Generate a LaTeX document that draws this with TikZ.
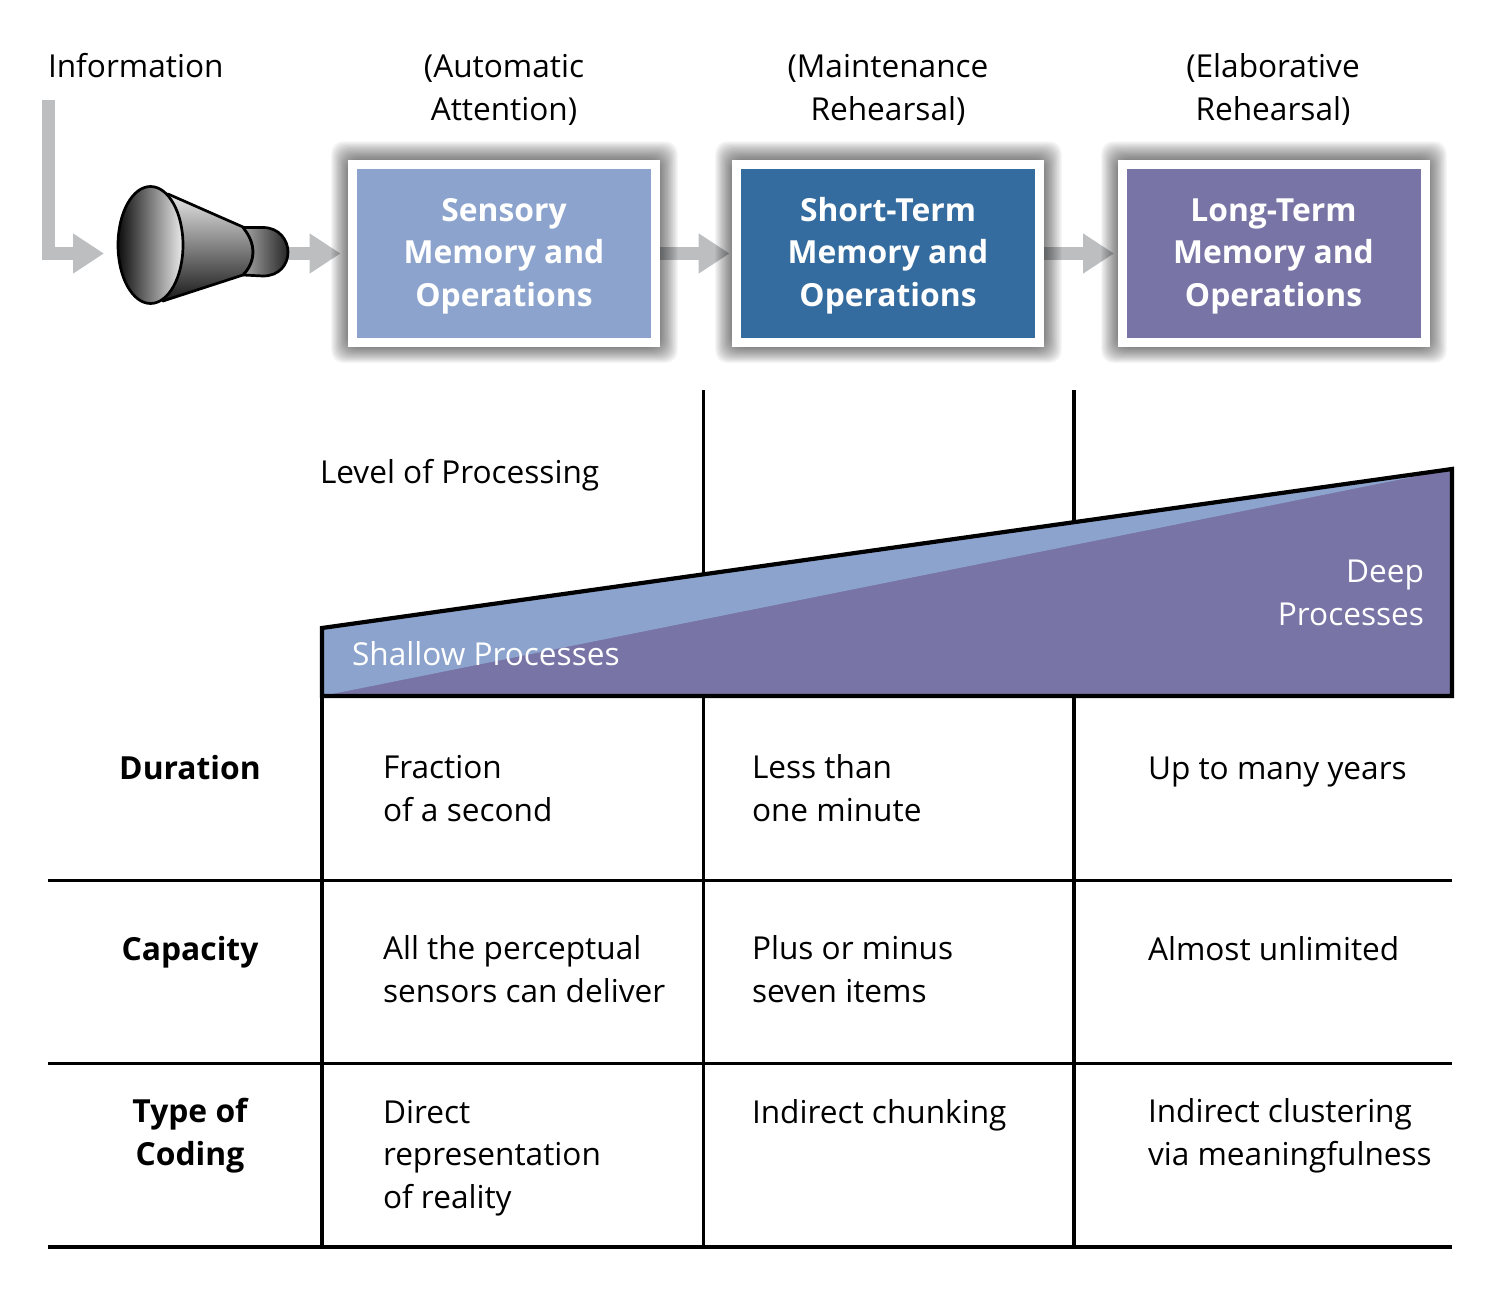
\documentclass[tikz,border=0pt]{standalone}
\usepackage{fontspec}
\setmainfont{Open Sans}
\usetikzlibrary{arrows.meta}
\definecolor{paleblue}{HTML}{8CA4CD}
\definecolor{deepblue}{HTML}{356C9F}
\definecolor{dullpurple}{HTML}{7874A6}
\definecolor{flowgrey}{HTML}{BCBEC0}
\tikzset{
  x=0.5pt,y=-0.5pt,
  txt/.style={inner sep=0pt,outer sep=0pt,font=\fontsize{15.8pt}{21.25pt}\selectfont,text=black},
  leftcell/.style={txt,anchor=base west,align=left},
  midcell/.style={txt,anchor=base,align=center},
  rowhead/.style={midcell,font=\fontsize{15.9pt}{21.25pt}\selectfont\bfseries},
  memory/.style={draw=white,line width=4.5pt,minimum width=151.5pt,minimum height=89pt,
    inner sep=0pt,align=center,text=white,text height=57.5pt,text depth=5pt,
    font=\fontsize{15.9pt}{21.25pt}\selectfont\bfseries},
  flow/.style={draw=flowgrey,line width=6.5pt,-{Triangle[length=15.5pt,width=19pt]}},
  rule/.style={draw=black,line width=1.9pt},
  wedgeedge/.style={draw=black,line width=2.1pt,line join=miter},
  cone/.style={draw=black,line width=1.35pt,line join=round},
}
\newcommand{\softshadow}[4]{%
  % stacked translucent rounded rectangles give a blurred edge
  \foreach \g in {1,...,18}{
    \fill[black,opacity=0.036,rounded corners=6pt]
      (#1+2-1.05*\g,#2+2-1.15*\g) rectangle (#3-2+1.1*\g,#4-2+1.0*\g);
  }
}
\begin{document}
\begin{tikzpicture}
\fill[white] (0,0) rectangle (1500,1295);
\useasboundingbox (0,0) rectangle (1500,1295);

% column and row rules
\coordinate (colA) at (703.5,390);
\coordinate (colAend) at (703.5,1247);
\coordinate (colB) at (1074,390);
\coordinate (colBend) at (1074,1247);
\coordinate (colC) at (322,628);
\coordinate (colCend) at (322,1247);
\draw[rule] (colA) -- (colAend);
\draw[rule] (colB) -- (colBend);
\draw[rule] (colC) -- (colCend);
\foreach \n/\y in {r1/880.5,r2/1063.5,r3/1247}{
  \coordinate (\n a) at (48,\y);
  \coordinate (\n b) at (1452,\y);
  \draw[rule] (\n a) -- (\n b);
}

% processing-level wedge
\coordinate (wa) at (322,628);
\coordinate (wb) at (1452,469);
\coordinate (wc) at (1452,696);
\coordinate (wd) at (322,696);
\fill[dullpurple] (wa) -- (wb) -- (wc) -- (wd) -- cycle;
\fill[paleblue] (wa) -- (wb) -- (wd) -- cycle;
\draw[wedgeedge] (wa) -- (wb) -- (wc) -- (wd) -- cycle;

% anchor points of the memory boxes, used by the arrows before the boxes are drawn
\coordinate (sensoryW) at (348,253.5);
\coordinate (sensoryE) at (660,253.5);
\coordinate (shortW) at (732,253.5);
\coordinate (shortE) at (1044,253.5);
\coordinate (longW) at (1118,253.5);
\coordinate (funnelIn) at (118,253.5);
\coordinate (funnelOut) at (288,253.5);
\coordinate (infoStart) at (48,100);

% flow arrows, underneath the box shadows
\draw[flow,line join=miter] (infoStart) |- ([xshift=-7pt]funnelIn);
\draw[flow,shorten >=3.7pt] (funnelOut) -- (sensoryW);
\draw[flow,shorten >=1.2pt] (sensoryE) -- (shortW);
\draw[flow,shorten >=2pt] (shortE) -- (longW);

% drop shadows behind the memory boxes
\softshadow{348}{160}{660}{347}
\softshadow{732}{160}{1044}{347}
\softshadow{1118}{160}{1429}{347}

% memory boxes
\node[memory,fill=paleblue] (sensory) at (504,253.5) {Sensory\\Memory and\\Operations};
\node[memory,fill=deepblue] (short) at (888,253.5) {Short-Term\\Memory and\\Operations};
\node[memory,fill=dullpurple] (long) at (1273.5,253.5) {Long-Term\\Memory and\\Operations};

% funnel
\shade[cone,top color=black!10,bottom color=black!90,shading angle=0]
  (168,194) -- (243,227) .. controls (250,236) and (253,244) .. (253,252)
  .. controls (253,260) and (250,268) .. (243,275) -- (163,301) -- cycle;
\shade[cone,left color=black!35,right color=black!85]
  (243,227.5) -- (263,227.5) .. controls (279,227.5) and (288,240) .. (288,252)
  .. controls (288,265) and (279,276) .. (263,276) -- (243,275)
  .. controls (250,268) and (253,260) .. (253,252)
  .. controls (253,244) and (250,236) .. (243,227.5) -- cycle;
\shade[cone,left color=black!95,right color=black!8]
  (150.5,245) ellipse [x radius=32.5,y radius=58.5];

% headings (a multi-line node is placed by the baseline of its last line)
\node[leftcell] (info) at (48,78) {Information};
\node[midcell] (hA) at (504,120) {(Automatic\\Attention)};
\node[midcell] (hB) at (888,120) {(Maintenance\\Rehearsal)};
\node[midcell] (hC) at (1273,120) {(Elaborative\\Rehearsal)};
\node[leftcell] (level) at (320,483) {Level of Processing};
\node[leftcell,text=white] (shallow) at (352,665) {Shallow Processes};
\node[txt,anchor=base east,align=right,text=white] (deep) at (1424,625) {Deep\\Processes};

% table rows
\node[rowhead] (dur) at (190,779) {Duration};
\node[leftcell] (d1) at (383,821) {Fraction\\of a second};
\node[leftcell] (d2) at (752,821) {Less than\\one minute};
\node[leftcell] (d3) at (1148,779) {Up to many years};

\node[rowhead] (cap) at (190,960) {Capacity};
\node[leftcell] (c1) at (383,1002) {All the perceptual\\sensors can deliver};
\node[leftcell] (c2) at (752,1002) {Plus or minus\\seven items};
\node[leftcell] (c3) at (1148,960) {Almost unlimited};

\node[rowhead] (typ) at (190,1165) {Type of\\Coding};
\node[leftcell] (t1) at (383,1208) {Direct\\representation\\of reality};
\node[leftcell] (t2) at (752,1123) {Indirect chunking};
\node[leftcell] (t3) at (1148,1165) {Indirect clustering\\via meaningfulness};
\end{tikzpicture}
\end{document}
